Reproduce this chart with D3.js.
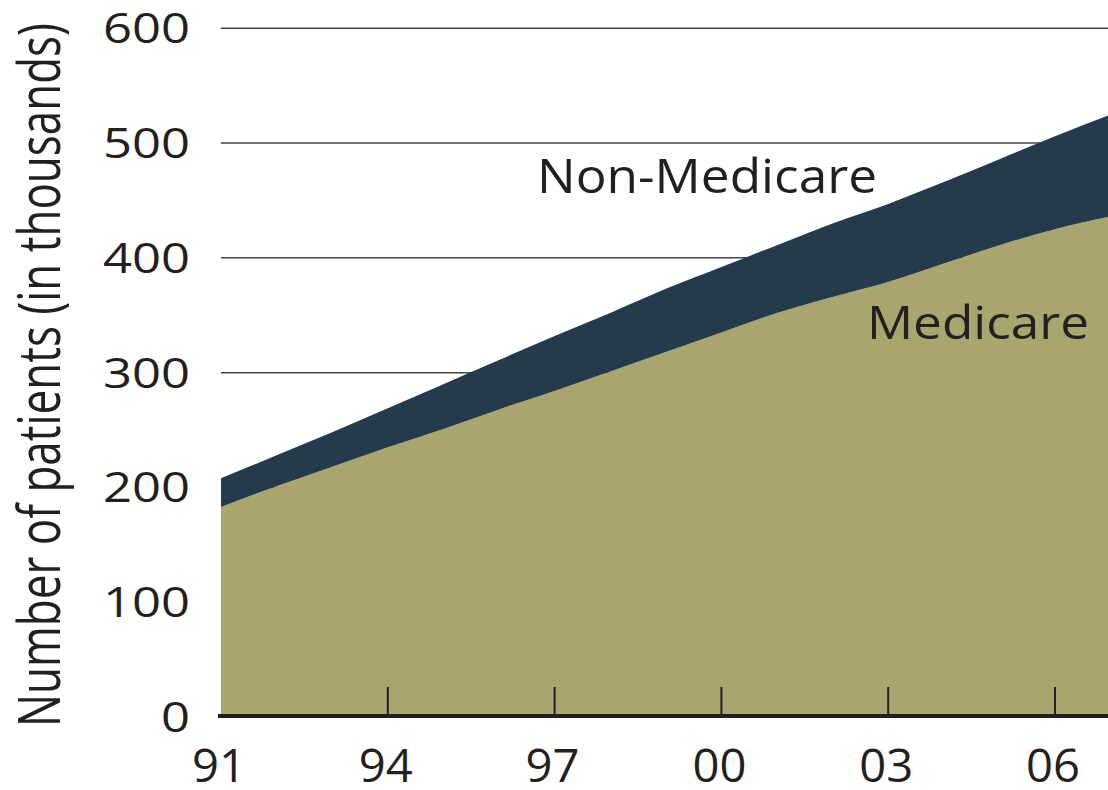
<!DOCTYPE html>
<html>
<head>
<meta charset="utf-8">
<script src="https://cdn.jsdelivr.net/npm/d3@7"></script>
<style>
  html, body { margin: 0; padding: 0; background: #fff; }
  svg { display: block; }
  text { font-family: "Open Sans", "Noto Sans", sans-serif; fill: #231f20; }
</style>
</head>
<body>
<svg id="chart" width="1108" height="790"></svg>
<script>
const years       = [1991,1992,1993,1994,1995,1996,1997,1998,1999,2000,2001,2002,2003,2004,2005,2006,2007];
const medicare    = [183, 201, 218, 235, 251, 268, 284, 301, 318, 335, 352, 366, 379, 395, 411, 425, 436];
const nonMedicare = [ 25,  27,  30,  34,  39,  43,  48,  51,  55,  57,  59,  64,  68,  71,  75,  81,  89];
const yTicks = [0, 100, 200, 300, 400, 500, 600];
const xTickYears  = [1991, 1994, 1997, 2000, 2003, 2006];
const xTickLabels = ["91", "94", "97", "00", "03", "06"];

const svg = d3.select("#chart");
const x = d3.scaleLinear().domain([1991, 2007]).range([221, 1110.6]);
const y = d3.scaleLinear().domain([0, 600]).range([717, 28.3]);

const rows = years.map((yr, i) => ({year: yr, medicare: medicare[i], nonMedicare: nonMedicare[i]}));
const stack = d3.stack().keys(["medicare", "nonMedicare"]);
const series = stack(rows);
const colors = {medicare: "#a8a56f", nonMedicare: "#263a4d"};

// gridlines
svg.append("g").selectAll("line").data(yTicks.filter(d => d > 0)).join("line")
  .attr("x1", 221).attr("x2", 1108)
  .attr("y1", d => y(d)).attr("y2", d => y(d))
  .attr("stroke", "#444").attr("stroke-width", 1.5);

// areas
const area = d3.area().curve(d3.curveMonotoneX)
  .x(d => x(d.data.year)).y0(d => y(d[0])).y1(d => y(d[1]));
svg.append("g").selectAll("path").data(series).join("path")
  .attr("d", area).attr("fill", d => colors[d.key]);

// y tick labels
svg.append("g").selectAll("text").data(yTicks).join("text")
  .attr("x", 190).attr("y", d => y(d) + 15)
  .attr("text-anchor", "end")
  .attr("font-size", 42)
  .attr("textLength", d => String(d).length * 29)
  .attr("lengthAdjust", "spacingAndGlyphs")
  .text(d => d);

// x axis ticks
svg.append("g").selectAll("line").data(xTickYears.slice(1)).join("line")
  .attr("x1", d => x(d)).attr("x2", d => x(d))
  .attr("y1", 687).attr("y2", 716)
  .attr("stroke", "#231f20").attr("stroke-width", 2);

// x axis baseline
svg.append("line").attr("x1", 218).attr("x2", 1108).attr("y1", 716).attr("y2", 716)
  .attr("stroke", "#231f20").attr("stroke-width", 4);

// x tick labels
svg.append("g").selectAll("text").data(xTickYears).join("text")
  .attr("x", d => x(d) - 2).attr("y", 782)
  .attr("text-anchor", "middle")
  .attr("font-size", 45)
  .attr("textLength", 54)
  .attr("lengthAdjust", "spacingAndGlyphs")
  .text((d, i) => xTickLabels[i]);

// y axis title
svg.append("text")
  .attr("transform", "translate(60,375) rotate(-90)")
  .attr("text-anchor", "middle")
  .attr("font-size", 58)
  .attr("textLength", 704)
  .attr("lengthAdjust", "spacingAndGlyphs")
  .text("Number of patients (in thousands)");

// series labels
svg.append("text").attr("x", 537).attr("y", 193)
  .attr("font-size", 47).attr("textLength", 340).attr("lengthAdjust", "spacingAndGlyphs")
  .text("Non-Medicare");
svg.append("text").attr("x", 867).attr("y", 339)
  .attr("font-size", 45).attr("textLength", 222).attr("lengthAdjust", "spacingAndGlyphs")
  .text("Medicare");
</script>
</body>
</html>
